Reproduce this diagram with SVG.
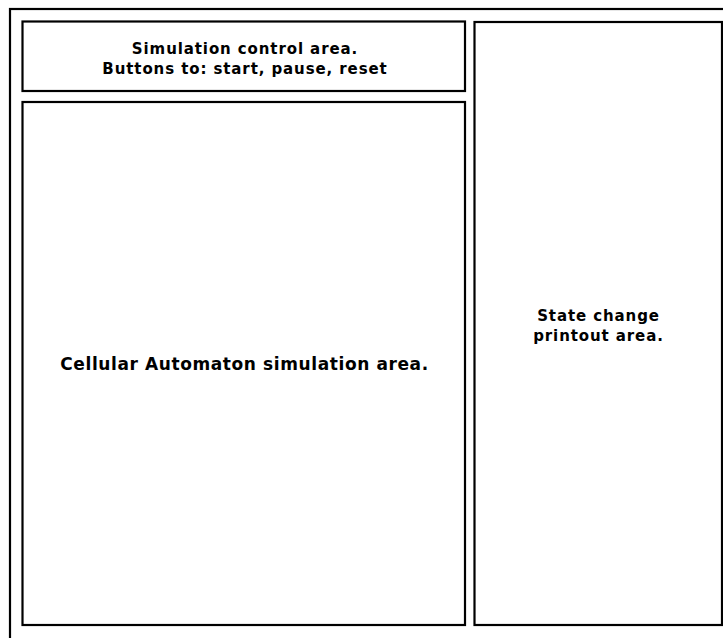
<svg xmlns="http://www.w3.org/2000/svg" width="723" height="638" viewBox="0 0 723 638">
  <style>
    .box { fill: #ffffff; stroke: #000000; stroke-width: 2.2; }
    .lbl { font-family: "DejaVu Sans", sans-serif; font-weight: bold; fill: #000000; text-anchor: middle; }
    .small { font-size: 15px; letter-spacing: 0.9px; }
    .large { font-size: 17px; letter-spacing: 0.6px; }
  </style>
  <rect width="723" height="638" fill="#ffffff"/>
  <!-- window frame -->
  <g id="frame">
    <rect class="box" x="10" y="9" width="730" height="650"/>
  </g>
  <g id="control-area">
    <rect class="box" x="22.5" y="21.5" width="442.5" height="69.5"/>
    <text class="lbl small" x="245" y="53.5">Simulation control area.</text>
    <text class="lbl small" x="245" y="73.5">Buttons to: start, pause, reset</text>
  </g>
  <g id="simulation-area">
    <rect class="box" x="22.5" y="102" width="442.5" height="523"/>
    <text class="lbl large" x="244.5" y="369.5">Cellular Automaton simulation area.</text>
  </g>
  <g id="printout-area">
    <rect class="box" x="474.5" y="22" width="247.5" height="603"/>
    <text class="lbl small" x="598.5" y="320.5">State change</text>
    <text class="lbl small" x="598.5" y="340.5">printout area.</text>
  </g>
  <g id="connectors"/>
</svg>
